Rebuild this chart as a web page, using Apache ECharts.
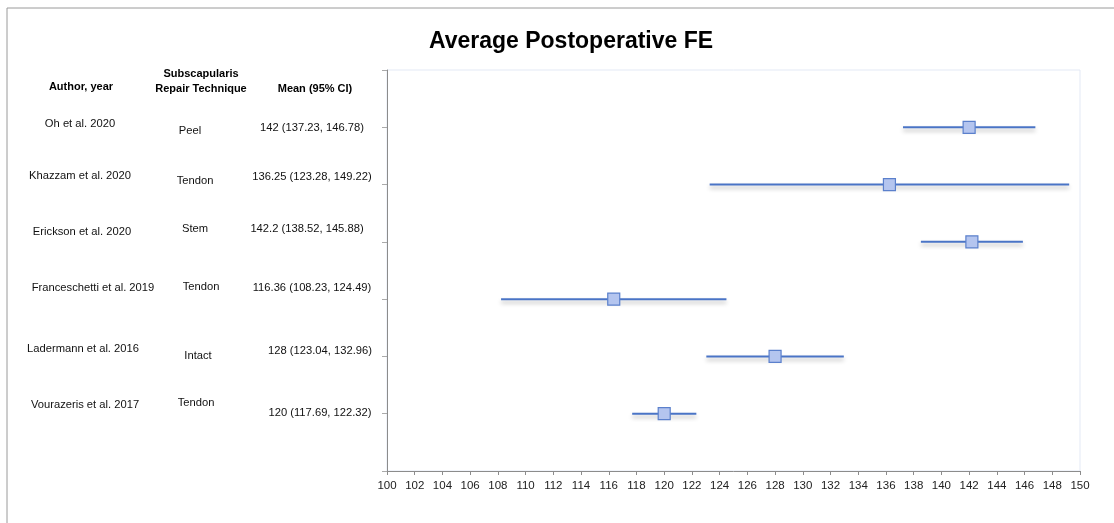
<!DOCTYPE html>
<html>
<head>
<meta charset="utf-8">
<script src="https://cdn.jsdelivr.net/npm/echarts@6/dist/echarts.min.js"></script>
<style>html,body{margin:0;padding:0;background:#fff;}#c{width:1114px;height:523px;}</style>
</head>
<body>
<div id="c"></div>
<script>
const authors = ["Oh et al. 2020", "Khazzam et al. 2020", "Erickson et al. 2020", "Franceschetti et al. 2019", "Ladermann et al. 2016", "Vourazeris et al. 2017"];
const techniques = ["Peel", "Tendon", "Stem", "Tendon", "Intact", "Tendon"];
const means = [142, 136.25, 142.2, 116.36, 128, 120];
const lows = [137.23, 123.28, 138.52, 108.23, 123.04, 117.69];
const highs = [146.78, 149.22, 145.88, 124.49, 132.96, 122.32];
const xTicks = {min: 100, max: 150, interval: 2};

// layout (text placement per row, in px)
const authorX = [80, 80, 82, 93, 83, 85];
const authorDy = [-3, -9, -10, -11, -8, -9];
const techX = [190, 195, 195, 201, 198, 196];
const techDy = [4, -4, -13, -12, -1, -11];
const meanX = [312, 312, 307, 312, 320, 320];
const meanDy = [1, -8, -13, -11, -6, -1];

const font = 'Liberation Sans';
const chart = echarts.init(document.getElementById('c'));
const rows = means.map((m, i) => i + 1);

chart.setOption({
  animation: false,
  title: {text: 'Average Postoperative FE', left: 566, top: 25, textAlign: 'center',
    textStyle: {fontFamily: font, fontWeight: 'bold', fontSize: 23, color: '#000'}},
  grid: {left: 387, right: 34, top: 70, bottom: 52, show: true, borderColor: '#e3e9f5', borderWidth: 1},
  xAxis: {type: 'value', min: xTicks.min, max: xTicks.max, interval: xTicks.interval,
    axisLine: {show: true, onZero: false, lineStyle: {color: '#8c8c8c'}},
    axisTick: {show: true, length: 4, lineStyle: {color: '#8c8c8c'}},
    splitLine: {show: false},
    axisLabel: {fontFamily: font, fontSize: 11.5, color: '#222', margin: 9}},
  yAxis: {type: 'value', min: 0, max: 7, interval: 1, inverse: true,
    axisLine: {show: true, onZero: false, lineStyle: {color: '#8c8c8c'}},
    axisTick: {show: true, length: 5, lineStyle: {color: '#aaaaaa'}},
    axisLabel: {show: false}, splitLine: {show: false}},
  series: [
    {type: 'custom', data: rows.map((r, i) => [lows[i], highs[i], r]),
      renderItem: function (params, api) {
        const a = api.coord([api.value(0), api.value(2)]);
        const b = api.coord([api.value(1), api.value(2)]);
        return {type: 'line', shape: {x1: a[0], y1: a[1], x2: b[0], y2: b[1]},
          style: {stroke: '#4a74c6', lineWidth: 2, shadowColor: 'rgba(0,0,0,0.28)', shadowBlur: 4, shadowOffsetY: 3}};
      }, z: 2},
    {type: 'scatter', data: rows.map((r, i) => [means[i], r]), symbol: 'rect', symbolSize: 12,
      itemStyle: {color: '#b4c5ef', borderColor: '#5b80cc', borderWidth: 1.2, opacity: 1}, z: 3}
  ]
});

const g = [{type: 'rect', shape: {x: 7, y: 8, width: 1130, height: 540}, style: {fill: 'none', stroke: '#9a9a9a', lineWidth: 1}, silent: true}];
const hdr = {fontFamily: font, fontWeight: 'bold', fontSize: 11, fill: '#000', textAlign: 'center', textVerticalAlign: 'middle'};
g.push({type: 'text', x: 81, y: 87, style: Object.assign({text: 'Author, year'}, hdr)});
g.push({type: 'text', x: 201, y: 74, style: Object.assign({text: 'Subscapularis'}, hdr)});
g.push({type: 'text', x: 201, y: 89, style: Object.assign({text: 'Repair Technique'}, hdr)});
g.push({type: 'text', x: 315, y: 89, style: Object.assign({text: 'Mean (95% CI)'}, hdr)});
const txt = {fontFamily: font, fontSize: 11.2, fill: '#111', textAlign: 'center', textVerticalAlign: 'middle'};
rows.forEach((r, i) => {
  const y = chart.convertToPixel({yAxisIndex: 0}, r);
  g.push({type: 'text', x: authorX[i], y: y + authorDy[i], style: Object.assign({text: authors[i]}, txt)});
  g.push({type: 'text', x: techX[i], y: y + techDy[i], style: Object.assign({text: techniques[i]}, txt)});
  g.push({type: 'text', x: meanX[i], y: y + meanDy[i], style: Object.assign({text: means[i] + ' (' + lows[i] + ', ' + highs[i] + ')'}, txt)});
});
chart.setOption({graphic: g});
</script>
</body>
</html>
